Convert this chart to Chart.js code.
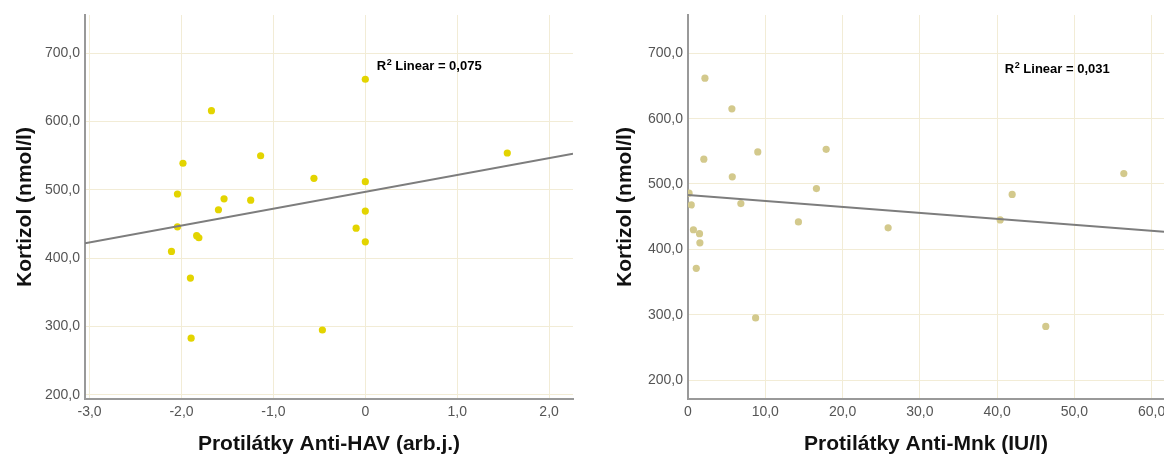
<!DOCTYPE html>
<html>
<head>
<meta charset="utf-8">
<script src="https://cdn.jsdelivr.net/npm/chart.js@4/dist/chart.umd.min.js"></script>
<style>
    body { margin: 0; background: #fff; width: 1164px; height: 459px; overflow: hidden; position: relative; }
    canvas { position: absolute; top: 0; }
</style>
</head>
<body>
<canvas id="grafHav" width="580" height="459" style="left:0"></canvas>
<canvas id="grafMnk" width="600" height="459" style="left:600px"></canvas>
<script>
// Hodnoty
const kortizolTicks = [200, 300, 400, 500, 600, 700];

// Anti-HAV (arb.j.) vs kortizol
const havX = [0, -1.674, 1.545, -1.984, -1.139, -0.559, 0, -2.044, -1.537, -1.247, -1.598,
              0, -0.1, -2.044, -1.835, -1.811, 0, -2.109, -1.903, -0.467, -1.895];
const havKortizol = [662, 616, 554, 539, 550, 517, 512, 494, 487, 485, 471,
                     469, 444, 446, 433, 430, 424, 410, 371, 295, 283];
const havTicks = [-3, -2, -1, 0, 1, 2];
const havFitX = [-3.05, 2.26];
const havFitY = [422, 553];
const havR2 = '0,075';

// Anti-Mnk (IU/l) vs kortizol
const mnkX = [2.19, 5.68, 2.05, 9.03, 17.88, 5.73, 16.62, 56.4, 0.14, 41.95, 0.42,
              6.84, 14.29, 40.4, 25.9, 0.7, 1.49, 1.54, 1.07, 8.75, 46.3];
const mnkKortizol = [662, 615, 538, 549, 553, 511, 493, 516, 486, 484, 468,
                     470, 442, 445, 433, 430, 424, 410, 371, 295, 282];
const mnkTicks = [0, 10, 20, 30, 40, 50, 60];
const mnkFitX = [0, 61.6];
const mnkFitY = [483, 427];
const mnkR2 = '0,031';

const FONT = '"Liberation Sans", Arial, sans-serif';

// popisek R² Linear
const r2Text = {
    id: 'r2Text',
    afterDatasetsDraw(chart, args, opts) {
        const ctx = chart.ctx;
        let px = chart.scales.x.getPixelForValue(opts.x);
        const py = chart.scales.y.getPixelForValue(opts.y);
        ctx.save();
        ctx.fillStyle = '#000';
        ctx.textBaseline = 'alphabetic';
        ctx.font = 'bold 13px ' + FONT;
        ctx.fillText('R', px, py);
        px += ctx.measureText('R').width + 0.5;
        ctx.font = 'bold 9px ' + FONT;
        ctx.fillText('2', px, py - 5);
        px += ctx.measureText('2').width;
        ctx.font = 'bold 13px ' + FONT;
        ctx.fillText(' Linear = ' + opts.value, px, py);
        ctx.restore();
    }
};

function formatTick(v) {
    return v === 0 ? '0' : v.toFixed(1).replace('.', ',');
}

function crearGrafico(id, xs, ys, fitX, fitY, xTicks, cfg) {
    const puntos = xs.map((x, i) => ({ x: x, y: ys[i] }));
    const linea = fitX.map((x, i) => ({ x: x, y: fitY[i] }));
    new Chart(document.getElementById(id), {
        type: 'scatter',
        data: {
            datasets: [{
                data: linea,
                showLine: true,
                borderColor: '#7d7d7d',
                borderWidth: 2,
                pointRadius: 0,
                order: 0
            }, {
                data: puntos,
                backgroundColor: cfg.color,
                borderWidth: 0,
                pointRadius: 3.6,
                order: 1
            }]
        },
        options: {
            responsive: false,
            animation: false,
            layout: { autoPadding: false, padding: { top: 15, right: cfg.padRight, left: 0, bottom: 0 } },
            plugins: {
                legend: { display: false },
                tooltip: { enabled: false },
                r2Text: cfg.r2
            },
            scales: {
                x: {
                    type: 'linear',
                    min: cfg.xMin,
                    max: cfg.xMax,
                    afterFit: s => { s.height = 60; },
                    afterBuildTicks: s => { s.ticks = xTicks.map(v => ({ value: v })); },
                    grid: { color: '#f2ecd6', drawTicks: false },
                    border: { color: '#999', width: 2 },
                    ticks: {
                        padding: 5,
                        color: '#555',
                        font: { family: FONT, size: 14 },
                        maxRotation: 0,
                        autoSkip: false,
                        callback: formatTick
                    },
                    title: {
                        display: true,
                        text: cfg.xTitle,
                        color: '#111',
                        font: { family: FONT, size: 21, weight: 'bold' },
                        padding: { top: 0, bottom: 2 }
                    }
                },
                y: {
                    type: 'linear',
                    min: cfg.yMin,
                    max: cfg.yMax,
                    afterFit: s => { s.width = cfg.yWidth; },
                    afterBuildTicks: s => { s.ticks = kortizolTicks.map(v => ({ value: v })); },
                    grid: { color: '#f2ecd6', drawTicks: false },
                    border: { color: '#999', width: 2 },
                    ticks: {
                        padding: 5,
                        color: '#555',
                        font: { family: FONT, size: 14 },
                        callback: v => v.toFixed(1).replace('.', ',')
                    },
                    title: {
                        display: true,
                        text: 'Kortizol (nmol/l)',
                        color: '#111',
                        font: { family: FONT, size: 21, weight: 'bold' },
                        padding: { top: 13, bottom: 0 }
                    }
                }
            }
        },
        plugins: [r2Text]
    });
}

crearGrafico('grafHav', havX, havKortizol, havFitX, havFitY, havTicks, {
    color: '#e3d400',
    xMin: -3.05, xMax: 2.26,
    yMin: 194, yMax: 756,
    yWidth: 85, padRight: 7,
    xTitle: 'Protilátky Anti-HAV (arb.j.)',
    r2: { x: 0.125, y: 676, value: havR2 }
});

crearGrafico('grafMnk', mnkX, mnkKortizol, mnkFitX, mnkFitY, mnkTicks, {
    color: '#d3c98c',
    xMin: 0, xMax: 61.6,
    yMin: 171, yMax: 758.6,
    yWidth: 88, padRight: 36,
    xTitle: 'Protilátky Anti-Mnk (IU/l)',
    r2: { x: 41.0, y: 670, value: mnkR2 }
});
</script>
</body>
</html>
